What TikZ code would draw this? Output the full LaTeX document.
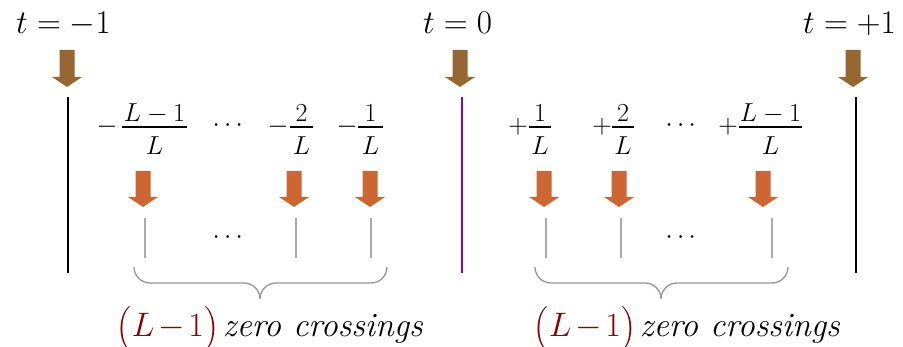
\RequirePackage{fix-cm}
\documentclass[tikz,border=0pt]{standalone}
\usepackage{amsmath}
\definecolor{arrbrown}{RGB}{150,102,51}
\definecolor{arrorange}{RGB}{204,102,51}
\definecolor{tickgray}{RGB}{170,170,170}
\definecolor{bracegray}{RGB}{150,150,150}
\definecolor{zpurple}{RGB}{153,0,153}
\definecolor{lblred}{RGB}{139,0,0}
\newcommand\blockarrow[5]{%
  \fill[#5] ({#1-7.5},#2) -- ({#1+7.5},#2) -- ({#1+7.5},#3) -- ({#1+15},#3)
    -- (#1,#4) -- ({#1-15},#3) -- ({#1-7.5},#3) -- cycle;}
\newcommand\Lfrac[5]{% #1 sign x, #2 sign, #3 bar left, #4 bar right, #5 numerator
  \node[sgn] (s#3) at (#1,134) {$#2$};
  \draw[fracbar] (#3,127) -- (#4,127);
  \node[frpart] (n#3) at ({(#3+#4)/2},122) {$#5$};
  \node[frpart] (d#3) at ({(#3+#4)/2},155) {$L$};}
\newcommand\brc[3]{% left, right, tip x
  \draw[bracegray, line width=1.3pt] (#1,267) to[out=-90,in=180] ({#1+16},283)
    -- ({#3-16},283) to[out=0,in=90] (#3,299) to[out=90,in=180] ({#3+16},283)
    -- ({#2-16},283) to[out=0,in=-90] (#2,267);}
\begin{document}
\begin{tikzpicture}[x=1pt,y=-1pt,
  tlabel/.style={font=\fontsize{33}{38}\selectfont, anchor=base, inner sep=0},
  frpart/.style={font=\fontsize{26}{30}\selectfont, anchor=base, inner sep=0},
  sgn/.style={font=\fontsize{27}{32}\selectfont, anchor=base, inner sep=0},
  dots/.style={font=\fontsize{26}{30}\selectfont, anchor=base, inner sep=0},
  zlabel/.style={font=\fontsize{34}{40}\selectfont, anchor=base, inner sep=0},
  fracbar/.style={line width=1.5pt},
  tick/.style={tickgray, line width=1.3pt},
  axisline/.style={line width=1.2pt}]
\useasboundingbox (0,0) rectangle (903,347);
% time labels
\node[tlabel] (tm) at (63.5,34) {$t=-1$};
\node[tlabel] (t0) at (457.5,34) {$t=0$};
\node[tlabel] (tp) at (849.5,34) {$t=+1$};
% brown arrows
\blockarrow{67}{50}{77}{87}{arrbrown}
\blockarrow{460}{50}{77}{87}{arrbrown}
\blockarrow{853}{50}{77}{87}{arrbrown}
% main vertical lines
\coordinate (a1) at (68,97); \coordinate (a2) at (68,273);
\coordinate (b1) at (462,97); \coordinate (b2) at (462,273);
\coordinate (c1) at (856,97); \coordinate (c2) at (856,273);
\draw[axisline] (a1) -- (a2);
\draw[axisline, zpurple] (b1) -- (b2);
\draw[axisline] (c1) -- (c2);
% fractions left
\Lfrac{107}{-}{122}{187}{L-1}
\Lfrac{278}{-}{290}{313}{2}
\Lfrac{347}{-}{358}{383}{1}
\node[dots] (dl) at (230,131.5) {$\cdots$};
% fractions right
\Lfrac{518}{+}{529}{551}{1}
\Lfrac{602}{+}{612}{634}{2}
\Lfrac{728}{+}{739}{802}{L-1}
\node[dots] (dr) at (683,131.5) {$\cdots$};
% orange arrows
\foreach \x in {143,294,370,544,619,763} {\blockarrow{\x}{171}{197}{207}{arrorange}}
% ticks
\foreach \x in {145,296,371,546,621,772} {\draw[tick] (\x,218) -- (\x,258);}
\node[dots] (dl2) at (230,243.5) {$\cdots$};
\node[dots] (dr2) at (683,243.5) {$\cdots$};
% braces
\brc{134}{387}{260}
\brc{535}{788}{661}
% labels
\node[zlabel] (zl) at (270,337) {\textcolor{lblred}{$\bigl(L\mkern2mu{-}\mkern2mu1\bigr)$}\hspace{0.12em}\textit{zero crossings}};
\node[zlabel] (zr) at (687,337) {\textcolor{lblred}{$\bigl(L\mkern2mu{-}\mkern2mu1\bigr)$}\hspace{0.12em}\textit{zero crossings}};
\end{tikzpicture}
\end{document}
